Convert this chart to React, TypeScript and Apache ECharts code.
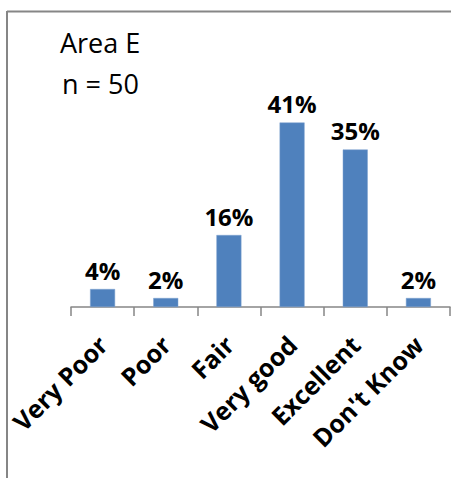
import React, { useEffect, useRef } from "react";
import * as echarts from "echarts";

const categories = ["Very Poor", "Poor", "Fair", "Very good", "Excellent", "Don't Know"];
const values = [4, 2, 16, 41, 35, 2];
const titleLines = ["Area E", "n = 50"];

export default function App() {
  const ref = useRef<HTMLDivElement>(null);
  useEffect(() => {
    if (!ref.current) return;
    const chart = echarts.init(ref.current, null, { renderer: "svg" });
    const font = "'Open Sans', 'Noto Sans', sans-serif";
    chart.setOption({
      animation: false,
      backgroundColor: "#ffffff",
      grid: { left: 71, right: 1, top: 82, bottom: 171, containLabel: false },
      xAxis: {
        type: "category",
        data: categories,
        axisLine: { lineStyle: { color: "#868686", width: 1.5 } },
        axisTick: { show: true, length: 9, lineStyle: { color: "#868686", width: 1.5 } },
        axisLabel: {
          rotate: 45,
          margin: 33,
          interval: 0,
          color: "#000000",
          fontFamily: font,
          fontWeight: "bold",
          fontSize: 25,
        },
      },
      yAxis: { type: "value", min: 0, max: 50, show: false, splitLine: { show: false } },
      series: [
        {
          type: "bar",
          data: values,
          barWidth: 25,
          itemStyle: { color: "#4F81BD", borderColor: "#7fa3d0", borderWidth: 0.5 },
          label: {
            show: true,
            position: "top",
            distance: 7,
            formatter: "{c}%",
            color: "#000000",
            fontFamily: font,
            fontWeight: "bold",
            fontSize: 24,
          },
        },
      ],
      graphic: [
        {
          type: "line",
          shape: { x1: 7, y1: 11.5, x2: 451, y2: 11.5 },
          style: { stroke: "#868686", lineWidth: 2 },
        },
        {
          type: "line",
          shape: { x1: 7, y1: 11, x2: 7, y2: 478 },
          style: { stroke: "#868686", lineWidth: 2 },
        },
        {
          type: "text",
          x: 60,
          y: 56,
          style: {
            text: titleLines[0],
            fill: "#000000",
            font: `27px ${font}`,
            verticalAlign: "bottom",
          },
        },
        {
          type: "text",
          x: 62,
          y: 97,
          style: {
            text: titleLines[1],
            fill: "#000000",
            font: `27px ${font}`,
            verticalAlign: "bottom",
          },
        },
      ],
    });
    return () => chart.dispose();
  }, []);
  return (
    <div
      ref={ref}
      style={{ position: "fixed", left: 0, top: 0, width: 451, height: 478 }}
    />
  );
}
